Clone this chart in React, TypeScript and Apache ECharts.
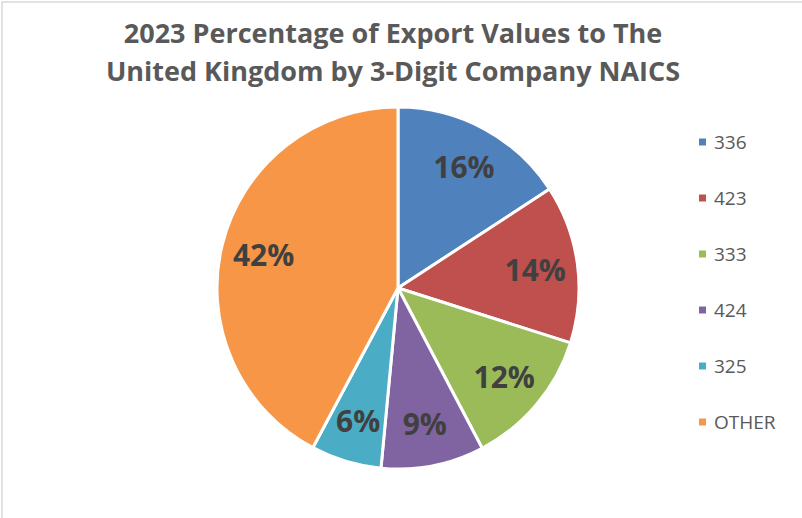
import React, { useEffect, useRef } from "react";
import * as echarts from "echarts";

const categories = ["336", "423", "333", "424", "325", "OTHER"];
const values = [15.8, 14.1, 12.4, 9.2, 6.3, 42.2];
const colors = ["#4F81BD", "#C0504D", "#9BBB59", "#8064A2", "#4BACC6", "#F79646"];
const titleText = "2023 Percentage of Export Values to The\nUnited Kingdom by 3-Digit Company NAICS";

export default function App() {
  const ref = useRef<HTMLDivElement>(null);
  useEffect(() => {
    document.body.style.margin = "0";
    const chart = echarts.init(ref.current!, null, { renderer: "svg" });
    const data = categories.map((c, i) => ({ name: c, value: values[i], itemStyle: { color: colors[i] } }));
    const font = "'Open Sans', 'Noto Sans', sans-serif";
    chart.setOption({
      animation: false,
      backgroundColor: "#ffffff",
      graphic: [
        {
          type: "rect",
          shape: { x: 2, y: 2, width: 1000, height: 1000 },
          style: { fill: "none", stroke: "#d9d9d9", lineWidth: 1.5 },
          silent: true,
        },
      ],
      title: {
        text: titleText,
        left: 388,
        top: 8,
        textAlign: "center",
        textStyle: {
          fontFamily: font,
          fontSize: 27,
          fontWeight: "bold",
          color: "#595959",
          lineHeight: 38,
        },
      },
      legend: {
        orient: "vertical",
        left: 692,
        top: 127,
        itemWidth: 9,
        itemHeight: 9,
        itemGap: 36,
        icon: "rect",
        data: categories,
        textStyle: { fontFamily: font, fontSize: 19, color: "#595959", lineHeight: 20, padding: [0, 0, 0, 2] },
      },
      series: [
        {
          type: "pie",
          center: [398, 288],
          radius: [0, 181],
          startAngle: 90,
          clockwise: true,
          data,
          label: { show: false },
          labelLine: { show: false },
          itemStyle: { borderColor: "#ffffff", borderWidth: 3 },
          silent: true,
        },
        {
          type: "pie",
          center: [398, 288],
          radius: [90, 181],
          startAngle: 90,
          clockwise: true,
          data: categories.map((c, i) => ({ name: c, value: values[i] })),
          itemStyle: { color: "rgba(0,0,0,0)" },
          label: {
            show: true,
            position: "inside",
            formatter: (p: any) => Math.round(p.percent) + "%",
            fontFamily: font,
            fontSize: 30,
            fontWeight: "bold",
            color: "#404040",
          },
          labelLine: { show: false },
          silent: true,
        },
      ],
    });
    return () => chart.dispose();
  }, []);
  return <div ref={ref} style={{ width: 802, height: 518 }} />;
}
